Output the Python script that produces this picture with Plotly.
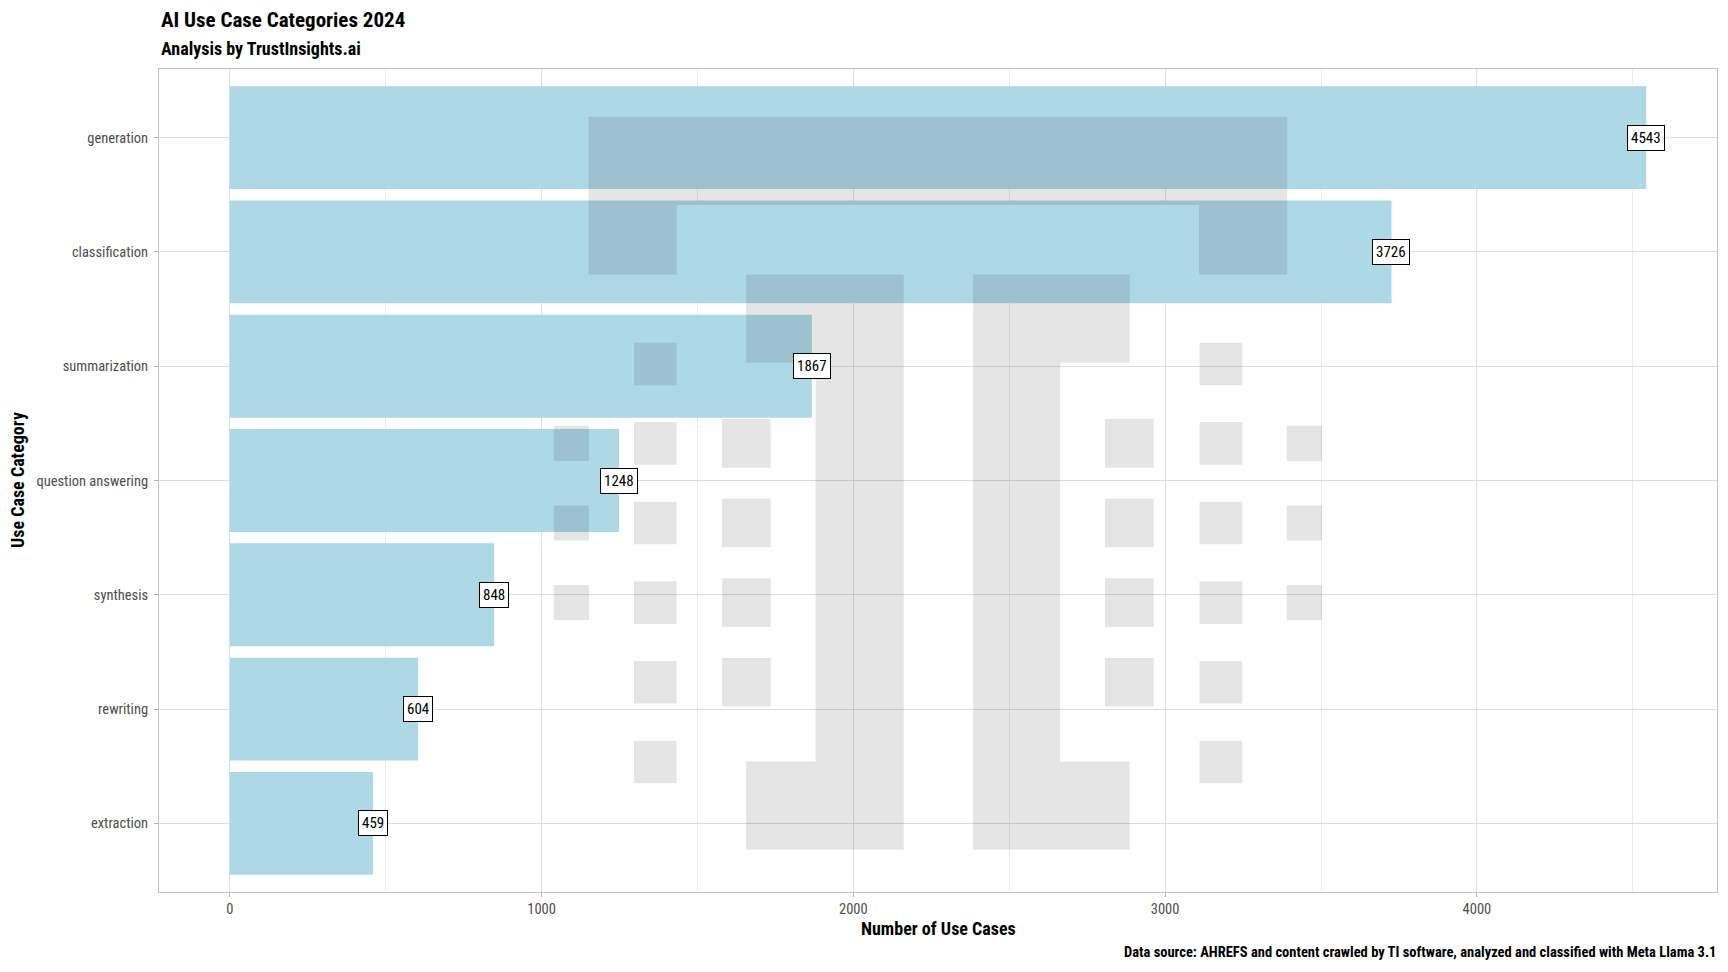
import plotly.graph_objects as go

# ---- data ----
categories = ["generation", "classification", "summarization", "question answering",
              "synthesis", "rewriting", "extraction"]
counts = [4543, 3726, 1867, 1248, 848, 604, 459]
x_ticks = [0, 1000, 2000, 3000, 4000]

title = "AI Use Case Categories 2024"
subtitle = "Analysis by TrustInsights.ai"
x_title = "Number of Use Cases"
y_title = "Use Case Category"
caption = "Data source: AHREFS and content crawled by TI software, analyzed and classified with Meta Llama 3.1"

FONT = "Liberation Sans Narrow, Roboto Condensed, DejaVu Sans Condensed, Roboto, sans-serif"
# page has an 8px body margin; figure sized to fit inside the 1728x972 window
BODY = 8
W, H = 1728 - 2 * BODY, 972 - 2 * BODY
# panel box in window pixels
PL, PR, PT, PB = 159, 1717, 69, 892
pw, ph = PR - PL, PB - PT


def px(x):
    return (x - PL) / pw


def py(y):
    return 1 - (y - PT) / ph


fig = go.Figure()
fig.add_trace(go.Bar(
    x=counts, y=categories, orientation="h",
    marker=dict(color="#ADD8E6", line=dict(width=0)),
    width=0.9, hoverinfo="x+y",
))

# value labels
annotations = []
for c, v in zip(categories, counts):
    annotations.append(dict(
        x=v, y=c, xref="x", yref="y", text=str(v), showarrow=False,
        font=dict(family=FONT, size=15, color="black"),
        bgcolor="white", bordercolor="black", borderwidth=1, borderpad=3,
        xanchor="center", yanchor="middle",
    ))

# titles / axis titles / caption
annotations += [
    dict(text=title, x=px(159), y=py(19.5), xref="paper", yref="paper", showarrow=False,
         xanchor="left", yanchor="middle",
         font=dict(family=FONT, size=21, color="black", weight="bold")),
    dict(text=subtitle, x=px(159), y=py(48), xref="paper", yref="paper", showarrow=False,
         xanchor="left", yanchor="middle",
         font=dict(family=FONT, size=18, color="black", weight="bold")),
    dict(text=x_title, x=0.5, y=py(928), xref="paper", yref="paper", showarrow=False,
         xanchor="center", yanchor="middle",
         font=dict(family=FONT, size=18, color="black", weight="bold")),
    dict(text=y_title, x=px(17.5), y=0.5, xref="paper", yref="paper", showarrow=False,
         xanchor="center", yanchor="middle", textangle=-90,
         font=dict(family=FONT, size=18, color="black", weight="bold")),
    dict(text=caption, x=px(1718), y=py(952), xref="paper", yref="paper", showarrow=False,
         xanchor="right", yanchor="middle",
         font=dict(family=FONT, size=14.5, color="black", weight="bold")),
]

# watermark (Trust Insights logo) in window-pixel coordinates -> paper
logo_rects = [
    (588.5, 116.8, 1287.2, 205.0),
    (588.5, 205.0, 676.7, 274.4),
    (1199.0, 205.0, 1287.2, 274.4),
    (746.1, 274.4, 903.7, 362.6),
    (815.5, 362.6, 903.7, 761.5),
    (746.1, 761.5, 903.7, 849.7),
    (973.1, 274.4, 1129.6, 362.6),
    (973.1, 362.6, 1060.2, 761.5),
    (973.1, 761.5, 1129.6, 849.7),
]
row_centers = [364.0, 443.4, 523.0, 602.6, 682.2, 762.0]
logo_cols = [(571.4, 35.2, [1, 2, 3]), (655.3, 42.6, [0, 1, 2, 3, 4, 5]),
             (746.4, 48.6, [1, 2, 3, 4]), (1129.3, 48.6, [1, 2, 3, 4]),
             (1220.9, 42.6, [0, 1, 2, 3, 4, 5]), (1304.3, 35.2, [1, 2, 3])]
for cx, s, rows in logo_cols:
    for r in rows:
        cy = row_centers[r]
        logo_rects.append((cx - s / 2, cy - s / 2, cx + s / 2, cy + s / 2))

shapes = []
for x0, y0, x1, y1 in logo_rects:
    shapes.append(dict(
        type="rect", xref="paper", yref="paper", layer="above",
        x0=px(x0), x1=px(x1), y0=py(y1), y1=py(y0),
        fillcolor="rgba(0,0,0,0.1)", line=dict(width=0),
    ))

xmax = max(counts)
fig.update_layout(
    width=W, height=H,
    margin=dict(l=PL - BODY, r=W - (PR - BODY), t=PT - BODY, b=H - (PB - BODY), autoexpand=False),
    paper_bgcolor="white", plot_bgcolor="white",
    showlegend=False, bargap=0.1,
    font=dict(family=FONT),
    annotations=annotations, shapes=shapes,
    xaxis=dict(
        range=[-0.05 * xmax, 1.05 * xmax], tickvals=x_ticks, ticktext=[str(t) for t in x_ticks],
        showgrid=True, gridcolor="#dedede", gridwidth=1,
        minor=dict(dtick=500, tick0=0, showgrid=True, gridcolor="#ececec", gridwidth=0.6, ticks=""),
        zeroline=False, showline=True, linecolor="#c4c4c4", linewidth=1, mirror=True,
        ticks="outside", ticklen=4, tickcolor="#b3b3b3", tickwidth=1,
        tickfont=dict(family=FONT, size=14.5, color="#4d4d4d"),
    ),
    yaxis=dict(
        categoryorder="array", categoryarray=categories,
        range=[len(categories) - 0.4, -0.6],
        showgrid=True, gridcolor="#dedede", gridwidth=1,
        zeroline=False, showline=True, linecolor="#c4c4c4", linewidth=1, mirror=True,
        ticks="outside", ticklen=4, tickcolor="#b3b3b3", tickwidth=1, ticklabelstandoff=3,
        tickfont=dict(family=FONT, size=14.5, color="#4d4d4d"),
    ),
)

fig.write_html("out.html")
